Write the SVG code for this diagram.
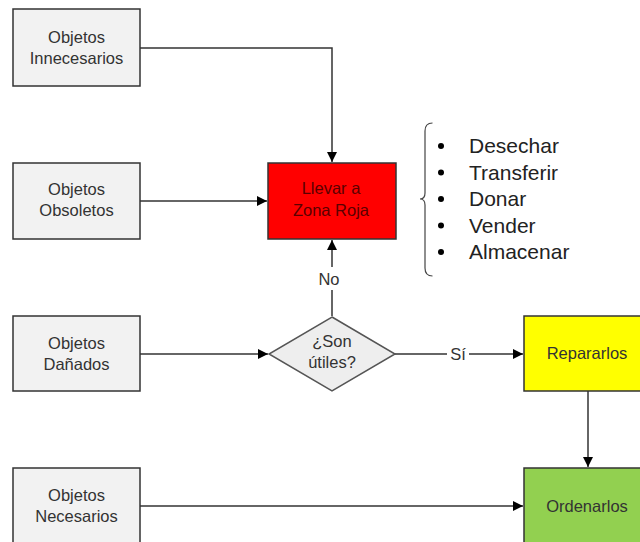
<svg xmlns="http://www.w3.org/2000/svg" width="640" height="542" viewBox="0 0 640 542">
  <style>
    .box { fill: #f2f2f2; stroke: #333333; stroke-width: 1.5; }
    .lbl { font-family: "Liberation Sans", Arial, sans-serif; font-size: 16.5px; fill: #333333; text-anchor: middle; }
    .item { font-family: "Liberation Sans", Arial, sans-serif; font-size: 21px; fill: #222222; }
    .wire { fill: none; stroke: #333333; stroke-width: 1.5; }
  </style>
  <defs>
    <marker id="arrow" viewBox="0 0 10 10" refX="10" refY="5" markerWidth="10" markerHeight="10" markerUnits="userSpaceOnUse" orient="auto">
      <path d="M0,0 L10,5 L0,10 Z" fill="#000000"/>
    </marker>
  </defs>
  <rect width="640" height="542" fill="#ffffff"/>

  <!-- connectors -->
  <g id="connectors">
    <path class="wire" d="M140,48 H332 V162" marker-end="url(#arrow)"/>
    <path class="wire" d="M140,201 H267" marker-end="url(#arrow)"/>
    <path class="wire" d="M140,354 H268" marker-end="url(#arrow)"/>
    <path class="wire" d="M140,506 H523" marker-end="url(#arrow)"/>
    <!-- No branch: diamond top up to red box -->
    <path class="wire" d="M332,316 V290"/>
    <path class="wire" d="M332,267 V240" marker-end="url(#arrow)"/>
    <text class="lbl" x="329" y="285">No</text>
    <!-- Sí branch: diamond right to yellow box -->
    <path class="wire" d="M395,354 H447"/>
    <path class="wire" d="M469,354 H523" marker-end="url(#arrow)"/>
    <text class="lbl" x="458" y="360">Sí</text>
    <!-- yellow to green -->
    <path class="wire" d="M588,391 V467" marker-end="url(#arrow)"/>
  </g>

  <g id="innecesarios">
    <rect class="box" x="13" y="9" width="127" height="77"/>
    <text class="lbl" x="76.5" y="43">Objetos</text>
    <text class="lbl" x="76.5" y="64">Innecesarios</text>
  </g>

  <g id="obsoletos">
    <rect class="box" x="13" y="163" width="127" height="76"/>
    <text class="lbl" x="76.5" y="195">Objetos</text>
    <text class="lbl" x="76.5" y="216">Obsoletos</text>
  </g>

  <g id="danados">
    <rect class="box" x="13" y="316" width="127" height="75"/>
    <text class="lbl" x="76.5" y="349">Objetos</text>
    <text class="lbl" x="76.5" y="370">Dañados</text>
  </g>

  <g id="necesarios">
    <rect class="box" x="13" y="468" width="127" height="80"/>
    <text class="lbl" x="76.5" y="501">Objetos</text>
    <text class="lbl" x="76.5" y="522">Necesarios</text>
  </g>

  <g id="zona-roja">
    <rect x="268" y="163" width="128" height="76" fill="#ff0000" stroke="#333333" stroke-width="1.5"/>
    <text class="lbl" x="331" y="194" fill="#5a0000" style="fill:#5a0000">Llevar a</text>
    <text class="lbl" x="331" y="216" style="fill:#5a0000">Zona Roja</text>
  </g>

  <g id="son-utiles">
    <polygon points="332,317 395,354 332,391 269,354" fill="#eeeeee" stroke="#555555" stroke-width="1.5"/>
    <text class="lbl" x="332" y="347">¿Son</text>
    <text class="lbl" x="332" y="368">útiles?</text>
  </g>

  <g id="repararlos">
    <rect x="524" y="316" width="130" height="75" fill="#ffff00" stroke="#333333" stroke-width="1.5"/>
    <text class="lbl" x="587" y="359">Repararlos</text>
  </g>

  <g id="ordenarlos">
    <rect x="524" y="468" width="130" height="80" fill="#92d050" stroke="#333333" stroke-width="1.5"/>
    <text class="lbl" x="587" y="512">Ordenarlos</text>
  </g>

  <g id="opciones">
    <path d="M432.5,123 Q425,123 425,131 V193 Q425,199 420,199 Q425,199 425,205 V268 Q425,276 432.5,276" fill="none" stroke="#444444" stroke-width="1.2"/>
    <g fill="#000000">
      <circle cx="441" cy="146" r="3"/>
      <circle cx="441" cy="172.5" r="3"/>
      <circle cx="441" cy="199" r="3"/>
      <circle cx="441" cy="225.5" r="3"/>
      <circle cx="441" cy="252" r="3"/>
    </g>
    <text class="item" x="469" y="153">Desechar</text>
    <text class="item" x="469" y="179.5">Transferir</text>
    <text class="item" x="469" y="206">Donar</text>
    <text class="item" x="469" y="232.5">Vender</text>
    <text class="item" x="469" y="258.5">Almacenar</text>
  </g>
</svg>
